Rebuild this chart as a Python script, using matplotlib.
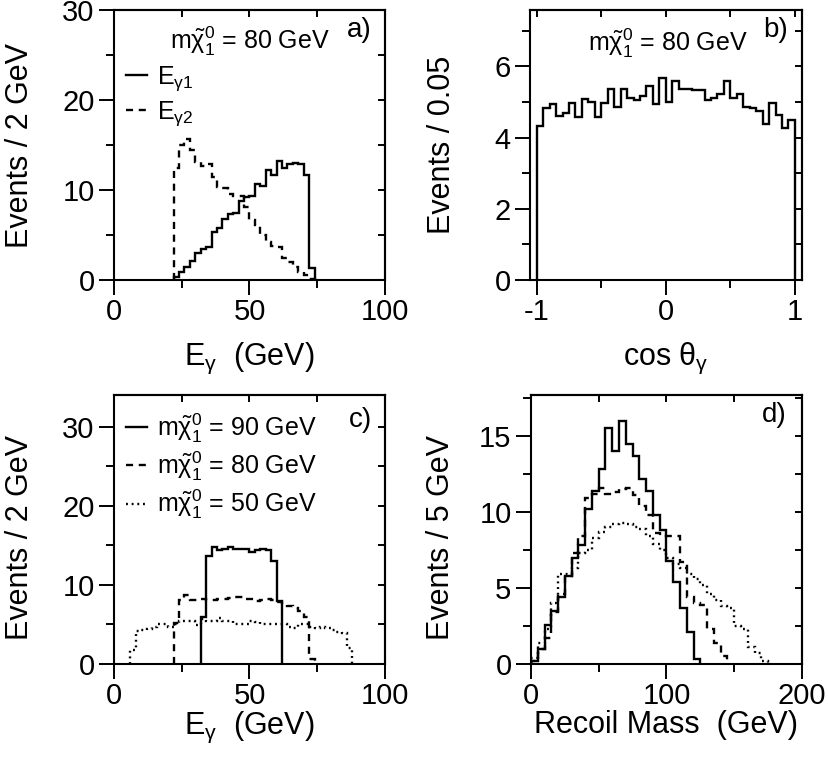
import numpy as np
import matplotlib
matplotlib.use('Agg')
import matplotlib.pyplot as plt
from matplotlib.ticker import MultipleLocator
from matplotlib.lines import Line2D

plt.rcParams['font.family'] = ['Liberation Sans', 'DejaVu Sans']
plt.rcParams['mathtext.fontset'] = 'custom'
plt.rcParams['mathtext.rm'] = 'Liberation Sans'
plt.rcParams['mathtext.it'] = 'Liberation Sans'
plt.rcParams['mathtext.bf'] = 'Liberation Sans:bold'
plt.rcParams['axes.unicode_minus'] = False

# ---------------- data ----------------
# panel a: photon energies, m(chi) = 80 GeV, 2 GeV bins
a_width = 2
a_e1_start = 22
a_e1_counts = [0.3, 0.9, 1.5, 2.1, 3.0, 3.5, 3.65, 5.3, 5.8, 6.75, 7.3, 7.4, 8.8,
               9.2, 9.3, 10.7, 10.5, 12.2, 11.7, 13.2, 12.4, 12.85, 13.0, 12.9, 11.7, 1.3]
a_e2_start = 22
a_e2_counts = [12.5, 15.0, 15.7, 14.4, 13.1, 12.7, 12.9, 11.5, 10.3, 10.2, 9.6, 9.3, 9.3,
               8.1, 6.7, 6.1, 5.0, 4.2, 3.8, 3.7, 2.4, 2.0, 1.4, 0.9, 0.55, 0.1]

# panel b: cos(theta_gamma), 0.05 bins
b_width = 0.05
b_start = -1.0
b_counts = [4.33, 4.84, 4.93, 4.61, 4.70, 4.96, 4.57, 5.07, 5.00, 4.57,
            4.96, 5.36, 4.85, 5.36, 5.10, 5.06, 5.17, 5.45, 4.93, 5.67,
            5.01, 5.60, 5.36, 5.36, 5.33, 5.33, 5.05, 5.10, 5.21, 5.60,
            5.12, 5.22, 4.87, 4.84, 4.75, 4.37, 4.98, 4.63, 4.26, 4.49]

# panel c: photon energy for three neutralino masses, 2 GeV bins
c_width = 2
c90_start = 32
c90_counts = [6.0, 13.6, 14.8, 14.4, 14.5, 14.8, 14.5, 14.6, 14.6, 14.2, 14.4, 14.6,
              14.4, 13.0, 8.0]
c80_start = 22
c80_counts = [5.2, 8.1, 8.75, 8.1, 8.1, 8.2, 8.1, 8.1, 8.2, 8.2, 8.3, 8.5, 8.5,
              8.2, 8.2, 8.0, 8.1, 8.2, 8.1, 7.9, 7.4, 7.3, 7.1, 6.7, 5.9, 0.6]
c50_start = 6
c50_counts = [1.8, 4.2, 4.3, 4.4, 4.7, 5.1, 5.0, 4.7, 5.1, 5.4, 5.5, 5.4, 4.95,
              5.7, 5.4, 5.5, 5.8, 5.5, 5.4, 5.1, 5.1, 5.1, 5.4, 5.3, 5.1, 5.1,
              5.1, 5.0, 5.1, 4.7, 4.5, 5.1, 5.1, 4.7, 4.6, 4.7, 4.5, 4.3, 4.1,
              3.9, 2.0]

# panel d: recoil mass, 5 GeV bins
d_width = 5
d_start = 0
d90_counts = [0.2, 1.0, 2.6, 3.5, 4.4, 5.8, 7.0, 7.85, 10.2, 11.4, 12.8, 15.5, 14.0,
              16.0, 14.5, 13.7, 12.2, 11.4, 9.8, 8.8, 6.8, 5.4, 3.7, 2.1, 0.33]
d80_counts = [0.2, 1.0, 1.7, 3.4, 4.6, 5.8, 7.3, 8.4, 10.9, 11.2, 11.6, 11.2, 11.3,
              11.5, 11.6, 11.1, 10.4, 9.8, 8.6, 8.4, 8.4, 8.4, 6.7, 4.4, 4.0, 3.9,
              2.3, 1.4, 0.5]
d50_counts = [0.4, 1.4, 2.3, 4.0, 5.9, 5.9, 6.3, 7.3, 7.5, 8.3, 8.7, 9.0, 9.2, 9.25,
              9.2, 9.0, 8.9, 8.4, 7.9, 7.5, 7.0, 6.6, 6.3, 5.9, 5.6, 5.2, 4.6, 4.2,
              3.8, 3.7, 2.5, 2.3, 1.1, 0.7, 0.2]

lab_mass = [r'm$\tilde{\chi}_1^0$ = 90 GeV', r'm$\tilde{\chi}_1^0$ = 80 GeV',
            r'm$\tilde{\chi}_1^0$ = 50 GeV']

# ---------------- style ----------------
LW = 1.7
SOLID = '-'
DASH = (0, (3.0, 2.4))
DOT = (0, (0.8, 1.6))
TICK_FS = 21
LABEL_FS = 22
TEXT_FS = 18


def edges(start, width, counts):
    return start + width * np.arange(len(counts) + 1)


def hist(ax, start, width, counts, ls):
    ax.stairs(counts, edges(start, width, counts), baseline=0, color='black',
              linewidth=LW, linestyle=ls)


def style(ax, xlim, ylim, xmaj, xmin, ymaj, ymin):
    ax.set_xlim(*xlim)
    ax.set_ylim(*ylim)
    for s in ax.spines.values():
        s.set_linewidth(1.5)
    ax.xaxis.set_major_locator(MultipleLocator(xmaj))
    ax.xaxis.set_minor_locator(MultipleLocator(xmin))
    ax.yaxis.set_major_locator(MultipleLocator(ymaj))
    ax.yaxis.set_minor_locator(MultipleLocator(ymin))
    ax.tick_params(which='major', direction='out', length=11, width=1.4,
                   labelsize=TICK_FS, pad=2)
    ax.tick_params(which='minor', direction='out', length=5.5, width=1.4)
    ax.tick_params(axis='y', which='major', pad=3)
    secx = ax.secondary_xaxis('top')
    secx.xaxis.set_major_locator(MultipleLocator(xmaj))
    secx.xaxis.set_minor_locator(MultipleLocator(xmin))
    secx.tick_params(which='both', direction='in', length=5, width=1.4, labeltop=False)
    secx.spines['top'].set_linewidth(1.5)
    secy = ax.secondary_yaxis('right')
    secy.yaxis.set_major_locator(MultipleLocator(ymaj))
    secy.yaxis.set_minor_locator(MultipleLocator(ymin))
    secy.tick_params(which='both', direction='in', length=5, width=1.4, labelright=False)
    secy.spines['right'].set_linewidth(1.5)


fig = plt.figure(figsize=(8.29, 7.63), dpi=100)
ax_a = fig.add_axes([0.1375, 0.633, 0.3269, 0.3539])
ax_b = fig.add_axes([0.6393, 0.633, 0.3281, 0.3539])
ax_c = fig.add_axes([0.1375, 0.1297, 0.3269, 0.3526])
ax_d = fig.add_axes([0.6405, 0.1297, 0.3269, 0.3526])

# ---- panel a ----
hist(ax_a, a_e1_start, a_width, a_e1_counts, SOLID)
hist(ax_a, a_e2_start, a_width, a_e2_counts, DASH)
style(ax_a, (0, 100), (0, 30), 50, 25, 10, 5)
ax_a.set_xlabel(r'E$_\gamma$  (GeV)', fontsize=LABEL_FS)
ax_a.set_ylabel('Events / 2 GeV', fontsize=LABEL_FS)
ax_a.xaxis.set_label_coords(0.5, -0.225)
ax_a.yaxis.set_label_coords(-0.29, 0.5)
ax_a.text(0.207, 0.885, r'm$\tilde{\chi}_1^0$ = 80 GeV', transform=ax_a.transAxes,
          fontsize=TEXT_FS, va='center', ha='left')
ax_a.text(0.952, 0.975, 'a)', transform=ax_a.transAxes, fontsize=20, va='top', ha='right')
ha = [Line2D([], [], color='black', lw=LW, ls=SOLID),
      Line2D([], [], color='black', lw=LW, ls=DASH)]
ax_a.legend(ha, [r'E$_{\gamma 1}$', r'E$_{\gamma 2}$'], loc='upper left',
            bbox_to_anchor=(0.045, 0.80), frameon=False, fontsize=TEXT_FS,
            handlelength=0.85, handletextpad=0.4, labelspacing=0.25, borderpad=0,
            borderaxespad=0)

# ---- panel b ----
hist(ax_b, b_start, b_width, b_counts, SOLID)
style(ax_b, (-1.052, 1.055), (0, 7.58), 1, 0.5, 2, 1)
ax_b.set_xlabel(r'cos $\theta_\gamma$', fontsize=LABEL_FS)
ax_b.set_ylabel('Events / 0.05', fontsize=LABEL_FS)
ax_b.xaxis.set_label_coords(0.5, -0.225)
ax_b.yaxis.set_label_coords(-0.268, 0.5)
ax_b.text(0.213, 0.878, r'm$\tilde{\chi}_1^0$ = 80 GeV', transform=ax_b.transAxes,
          fontsize=TEXT_FS, va='center', ha='left')
ax_b.text(0.95, 0.975, 'b)', transform=ax_b.transAxes, fontsize=20, va='top', ha='right')

# ---- panel c ----
hist(ax_c, c90_start, c_width, c90_counts, SOLID)
hist(ax_c, c80_start, c_width, c80_counts, DASH)
hist(ax_c, c50_start, c_width, c50_counts, DOT)
style(ax_c, (0, 100), (0, 34), 50, 25, 10, 5)
ax_c.set_xlabel(r'E$_\gamma$  (GeV)', fontsize=LABEL_FS)
ax_c.set_ylabel('Events / 2 GeV', fontsize=LABEL_FS)
ax_c.xaxis.set_label_coords(0.5, -0.17)
ax_c.yaxis.set_label_coords(-0.29, 0.47)
ax_c.text(0.952, 0.955, 'c)', transform=ax_c.transAxes, fontsize=20, va='top', ha='right')
hc = [Line2D([], [], color='black', lw=LW, ls=SOLID),
      Line2D([], [], color='black', lw=LW, ls=DASH),
      Line2D([], [], color='black', lw=LW, ls=DOT)]
ax_c.legend(hc, lab_mass, loc='upper left', bbox_to_anchor=(0.045, 0.94),
            frameon=False, fontsize=TEXT_FS, handlelength=0.85, handletextpad=0.4,
            labelspacing=0.2, borderpad=0, borderaxespad=0)

# ---- panel d ----
hist(ax_d, d_start, d_width, d90_counts, SOLID)
hist(ax_d, d_start, d_width, d80_counts, DASH)
hist(ax_d, d_start, d_width, d50_counts, DOT)
style(ax_d, (0, 200), (0, 17.7), 100, 50, 5, 2.5)
ax_d.set_xlabel('Recoil Mass  (GeV)', fontsize=LABEL_FS)
ax_d.set_ylabel('Events / 5 GeV', fontsize=LABEL_FS)
ax_d.xaxis.set_label_coords(0.5, -0.17)
ax_d.yaxis.set_label_coords(-0.277, 0.47)
ax_d.text(0.945, 0.975, 'd)', transform=ax_d.transAxes, fontsize=20, va='top', ha='right')

fig.savefig('out.png', dpi=100)
